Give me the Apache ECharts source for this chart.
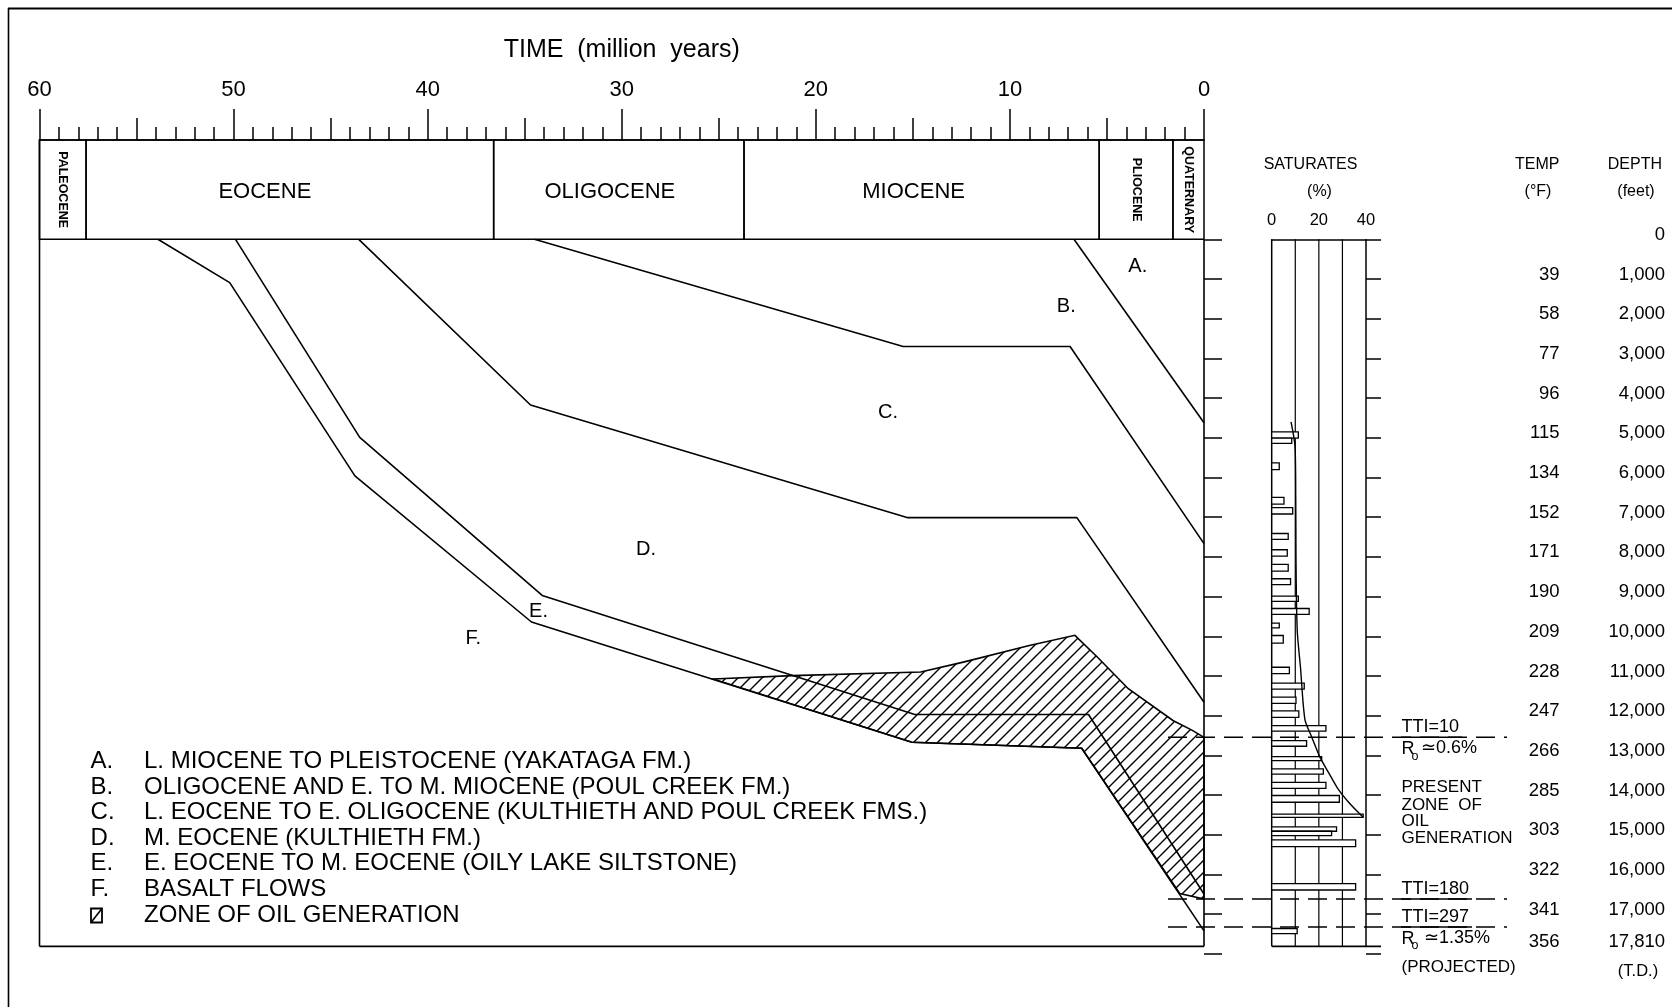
<!DOCTYPE html>
<html><head><meta charset="utf-8">
<script src="https://cdn.jsdelivr.net/npm/echarts/dist/echarts.min.js"></script>
<style>html,body{margin:0;padding:0;background:#fff}#c{width:1672px;height:1007px}</style>
</head><body><div id="c"></div>
<script>
// ---------------- DATA ----------------
const timeTitle = 'TIME  (million  years)';
const periodNames = ['PALEOCENE', 'EOCENE', 'OLIGOCENE', 'MIOCENE', 'PLIOCENE', 'QUATERNARY'];
const periodStart = [60, 57.6, 36.6, 23.7, 5.4, 1.6];
const periodEnd = [57.6, 36.6, 23.7, 5.4, 1.6, 0];
const periodVertical = [true, false, false, false, true, true];

// burial history horizons: [age Ma, depth ft]
const lineAB = [[6.7, 0], [0, 4620]];
const lineBC = [[34.5, 0], [15.5, 2700], [6.9, 2700], [0, 7665]];
const lineCD = [[43.55, 0], [34.7, 4175], [15.3, 7010], [6.55, 7010], [0, 11660]];
const lineDE = [[49.9, 0], [43.5, 4990], [34.1, 8970], [14.9, 11970], [5.95, 11970], [0, 16490]];
const lineEF = [[53.9, 0], [50.2, 1090], [43.75, 5960], [34.65, 9640], [15.05, 12670], [6.3, 12820], [0, 17420]];

// zone of oil generation (TTI=10 top, TTI=180 base)
const hatchTop = [[25.3, 11075], [21.2, 10990], [14.6, 10900], [12.4, 10650], [9.0, 10230], [6.65, 9975], [5.5, 10520], [3.9, 11320], [1.6, 12120], [0.6, 12370], [0, 12545]];
const hatchBottom = [[25.3, 11075], [15.05, 12670], [6.3, 12820], [1.25, 16480], [0, 16620]];

const ttiDepths = [12545, 16620, 17320];
const tdDepth = 17810;

const depthTicks = [0, 1000, 2000, 3000, 4000, 5000, 6000, 7000, 8000, 9000, 10000, 11000, 12000, 13000, 14000, 15000, 16000, 17000, 17810];
const depthLabels = ['0', '1,000', '2,000', '3,000', '4,000', '5,000', '6,000', '7,000', '8,000', '9,000', '10,000', '11,000', '12,000', '13,000', '14,000', '15,000', '16,000', '17,000', '17,810'];
const tempLabels = ['', '39', '58', '77', '96', '115', '134', '152', '171', '190', '209', '228', '247', '266', '285', '303', '322', '341', '356'];

// saturates (%) bars: top depth, bottom depth, value
const satTop = [4850, 5010, 5630, 6500, 6760, 7410, 7820, 8190, 8550, 8990, 9300, 9670, 9980, 10780, 11180, 11530, 11880, 12250, 12630, 13030, 13340, 13680, 14010, 14480, 14800, 14910, 15130, 16230, 17360];
const satBottom = [5010, 5140, 5800, 6670, 6920, 7560, 7980, 8360, 8700, 9120, 9450, 9790, 10170, 10940, 11330, 11690, 12040, 12390, 12770, 13130, 13470, 13830, 14180, 14560, 14910, 15020, 15300, 16390, 17490];
const satValue = [11.3, 8.5, 3.2, 5.2, 8.9, 7.0, 6.6, 7.0, 8.0, 11.3, 15.9, 3.2, 4.9, 7.5, 13.8, 10.3, 11.5, 23.0, 14.8, 21.2, 21.9, 23.0, 28.7, 38.8, 27.5, 25.4, 35.6, 35.6, 10.8];
const satCurve = [[8.2, 4600], [9.9, 5220], [10.2, 6500], [10.3, 8000], [10.5, 9100], [10.9, 9930], [12.2, 10780], [14.1, 12100], [17.0, 12540], [20.5, 13050], [24.0, 13420], [28.2, 13850], [33.2, 14220], [38.8, 14560]];

const unitLetters = ['A.', 'B.', 'C.', 'D.', 'E.', 'F.'];
const legendTexts = [
  'L. MIOCENE TO PLEISTOCENE (YAKATAGA FM.)',
  'OLIGOCENE AND E. TO M. MIOCENE (POUL CREEK FM.)',
  'L. EOCENE TO E. OLIGOCENE (KULTHIETH AND POUL CREEK FMS.)',
  'M. EOCENE (KULTHIETH FM.)',
  'E. EOCENE TO M. EOCENE (OILY LAKE SILTSTONE)',
  'BASALT FLOWS',
  'ZONE OF OIL GENERATION'
];

// ---------------- LAYOUT ----------------
const FF = '"Liberation Sans", Arial, sans-serif';
const BLACK = '#000';
const periodLabelDx = [0, -25, -9, -8, 0, 0];

function hatchPattern() {
  const s = 12;
  const c = document.createElement('canvas');
  c.width = s; c.height = s;
  const g = c.getContext('2d');
  g.strokeStyle = '#000'; g.lineWidth = 1.4;
  g.beginPath();
  g.moveTo(0, s); g.lineTo(s, 0);
  g.moveTo(-1, 1); g.lineTo(1, -1);
  g.moveTo(s - 1, s + 1); g.lineTo(s + 1, s - 1);
  g.stroke();
  return {image: c, repeat: 'repeat'};
}
const HATCH = hatchPattern();

const chart = echarts.init(document.getElementById('c'), null, {renderer: 'canvas'});

const tickStyle = {color: BLACK, width: 1.5};
const burialSeries = [lineAB, lineBC, lineCD, lineDE, lineEF].map(d => ({
  type: 'line', xAxisIndex: 0, yAxisIndex: 0, data: d, symbol: 'none', silent: true,
  lineStyle: {color: BLACK, width: 1.6}, z: 5
}));

const option = {
  animation: false,
  backgroundColor: '#fff',
  textStyle: {fontFamily: FF, color: BLACK},
  grid: [
    {left: 39.5, top: 239.3, width: 1164.5, height: 714.6},
    {left: 39.5, top: 140, width: 1164.5, height: 99.3},
    {left: 1271.7, top: 239.3, width: 94.3, height: 714.6},
    {left: 39.5, top: 140, width: 1164.5, height: 99.3}
  ],
  xAxis: [
    {gridIndex: 0, type: 'value', min: 0, max: 60, inverse: true, show: false},
    {gridIndex: 1, type: 'value', position: 'top', min: 0, max: 60, inverse: true, interval: 10,
      axisLine: {show: true, onZero: false, lineStyle: {color: BLACK, width: 1.6}},
      axisTick: {show: true, inside: false, length: 31, lineStyle: tickStyle},
      minorTick: {show: true, splitNumber: 10, length: 13, lineStyle: tickStyle},
      axisLabel: {show: true, margin: 39, fontSize: 22, color: BLACK, fontFamily: FF},
      splitLine: {show: false}, minorSplitLine: {show: false}},
    {gridIndex: 3, type: 'value', position: 'top', min: 0, max: 60, inverse: true, interval: 5,
      axisLine: {show: false, onZero: false}, axisTick: {show: true, inside: false, length: 22, lineStyle: tickStyle},
      axisLabel: {show: false}, splitLine: {show: false}},
    {gridIndex: 2, type: 'value', position: 'top', min: 0, max: 40, interval: 10,
      axisLine: {show: true, onZero: false, lineStyle: {color: BLACK, width: 1.6}}, axisTick: {show: false},
      axisLabel: {margin: 10, fontSize: 16.5, color: BLACK, fontFamily: FF,
        formatter: v => (v % 20 === 0 ? String(v) : '')},
      splitLine: {show: false}}
  ],
  yAxis: [
    {gridIndex: 0, type: 'value', min: 0, max: 18000, interval: 1000, inverse: true, position: 'right',
      axisLine: {show: false, onZero: false}, axisTick: {show: true, length: 18, lineStyle: tickStyle},
      axisLabel: {show: false}, splitLine: {show: false}},
    {gridIndex: 1, type: 'value', min: 0, max: 1, show: false},
    {gridIndex: 2, type: 'value', min: 0, max: 18000, interval: 1000, inverse: true, position: 'right',
      axisLine: {show: false, onZero: false}, axisTick: {show: true, length: 15, lineStyle: tickStyle},
      axisLabel: {show: false}, splitLine: {show: false}},
    {gridIndex: 3, type: 'value', min: 0, max: 1, show: false}
  ],
  series: [
    {
      type: 'custom', xAxisIndex: 0, yAxisIndex: 0, data: [[0, 0]], z: 4, silent: true,
      renderItem: (p, api) => {
        const poly = hatchTop.concat(hatchBottom.slice().reverse().slice(0, -1));
        return {type: 'polygon', shape: {points: poly.map(pt => api.coord(pt))},
          style: {fill: HATCH, stroke: BLACK, lineWidth: 1.6}};
      }
    },
    ...burialSeries,
    {
      type: 'custom', xAxisIndex: 1, yAxisIndex: 1, silent: true, z: 3,
      data: periodNames.map((n, i) => [periodStart[i], periodEnd[i], i]),
      renderItem: (p, api) => {
        const i = api.value(2);
        const a = api.coord([api.value(0), 1]);
        const b = api.coord([api.value(1), 0]);
        const vert = periodVertical[i];
        return {type: 'group', children: [
          {type: 'rect', shape: {x: a[0], y: a[1], width: b[0] - a[0], height: b[1] - a[1]},
            style: {fill: 'rgba(0,0,0,0)', stroke: BLACK, lineWidth: 1.5}},
          {type: 'text', x: (a[0] + b[0]) / 2 + periodLabelDx[i], y: (a[1] + b[1]) / 2 + (vert ? 0 : 2),
            rotation: vert ? -Math.PI / 2 : 0,
            style: {text: periodNames[i], align: 'center', verticalAlign: 'middle',
              fontFamily: FF, fontSize: vert ? 12.5 : 22, fontWeight: vert ? 'bold' : 'normal', fill: BLACK}}
        ]};
      }
    },
    {
      type: 'custom', xAxisIndex: 3, yAxisIndex: 2, silent: true, z: 6,
      data: satTop.map((t, i) => [satValue[i], t, satBottom[i]]),
      renderItem: (p, api) => {
        const a = api.coord([0, api.value(1)]);
        const b = api.coord([api.value(0), api.value(2)]);
        return {type: 'rect', shape: {x: a[0], y: a[1], width: b[0] - a[0], height: b[1] - a[1]},
          style: {fill: '#fff', stroke: BLACK, lineWidth: 1.3}};
      }
    },
    {type: 'line', xAxisIndex: 3, yAxisIndex: 2, data: satCurve, symbol: 'none', smooth: 0.25, silent: true,
      lineStyle: {color: BLACK, width: 1.4}, z: 7}
  ]
};
chart.setOption(option);

// ---------------- ANNOTATIONS (positions from axes) ----------------
const P0 = (t, d) => chart.convertToPixel({gridIndex: 0}, [t, d]);
const P2 = (s, d) => chart.convertToPixel({gridIndex: 2}, [s, d]);
const G = [];
const ln = (x1, y1, x2, y2, w, extra) => G.push(Object.assign({type: 'line', z: 1, silent: true,
  shape: {x1, y1, x2, y2}, style: {stroke: BLACK, lineWidth: w || 1.5}}, extra || {}));
const tx = (text, x, y, size, align, extra) => G.push({type: 'text', x, y, z: 20, silent: true,
  style: Object.assign({text, fontFamily: FF, fontSize: size, fill: BLACK, align: align || 'left', verticalAlign: 'middle'}, extra || {})});

// outer frame
ln(8, 8.5, 1672, 8.5, 2.2);
ln(8.5, 8, 8.5, 1007, 1.6);

// main plot box
const m0 = P0(60, 0), m1 = P0(0, tdDepth);
ln(m0[0], 140, m0[0], m1[1], 1.6);
ln(m0[0], m1[1], m1[0], m1[1], 1.8);
ln(m1[0], m0[1], m1[0], m1[1], 1.6);

// time axis title, centred over the time axis
tx(timeTitle, (m0[0] + m1[0]) / 2, 50, 25, 'center');

// saturates box & grid
const s0 = P2(0, 0), s1 = P2(40, tdDepth);
ln(s0[0], s0[1], s0[0], s1[1], 1.5);
ln(s1[0], s0[1], s1[0], s1[1], 1.5);
ln(s0[0], s1[1], s1[0] + 15, s1[1], 1.6);
[10, 20, 30].forEach(v => { const a = P2(v, 0), b = P2(v, tdDepth); ln(a[0], a[1], b[0], b[1], 1.2); });

// TTI dashed lines
ttiDepths.forEach(d => {
  const y = P0(0, d)[1];
  ln(1168, y, 1507, y, 1.5, {z: 15, style: {stroke: BLACK, lineWidth: 1.5, lineDash: [19, 9]}});
});
const yT = ttiDepths.map(d => P0(0, d)[1]);
ln(1401, yT[0], 1462, yT[0], 1.5, {z: 15});
ln(1401, yT[1], 1472, yT[1], 1.5, {z: 15});
ln(1401, yT[2], 1472, yT[2], 1.5, {z: 15});
const RS = 18;
tx('TTI=10', 1401.5, yT[0] - 10, RS);
tx('R', 1401.5, yT[0] + 12, RS);
tx('o', 1411.5, yT[0] + 19, 12.5);
tx('≃0.6%', 1421, yT[0] + 11, RS);
tx('PRESENT', 1401.5, 787, 17);
tx('ZONE  OF', 1401.5, 805, 17);
tx('OIL', 1401.5, 821, 17);
tx('GENERATION', 1401.5, 838, 17);
tx('TTI=180', 1401.5, yT[1] - 10, RS);
tx('TTI=297', 1401.5, yT[2] - 10, RS);
tx('R', 1401.5, yT[2] + 12, RS);
tx('o', 1411.5, yT[2] + 19, 12.5);
tx('≃1.35%', 1424, yT[2] + 11, RS);
tx('(PROJECTED)', 1401.5, 967.5, 17);

// column headers
tx('SATURATES', 1310.5, 165, 16, 'center');
tx('(%)', 1319.5, 191.5, 16, 'center');
tx('TEMP', 1559.5, 165, 16, 'right');
tx('(°F)', 1538, 191.5, 16, 'center');
tx('DEPTH', 1662, 165, 16, 'right');
tx('(feet)', 1636, 191.5, 16, 'center');

// depth & temperature columns
depthTicks.forEach((d, i) => {
  const y = P0(0, d)[1] - 4.5;
  tx(depthLabels[i], 1665, y, 18.5, 'right');
  if (tempLabels[i]) tx(tempLabels[i], 1559.5, y, 18.5, 'right');
});
tx('(T.D.)', 1638, 971.5, 16.5, 'center');

// unit labels in the burial plot
const unitPos = [[1137.8, 266.6], [1066.3, 306], [888, 412.7], [646, 549], [538.5, 611], [473.4, 638]];
unitLetters.forEach((u, i) => tx(u, unitPos[i][0], unitPos[i][1], 20, 'center'));

// legend
const legY = [761.4, 787.0, 812.5, 838.1, 863.7, 889.3, 915.5];
legendTexts.forEach((t, i) => {
  if (i < unitLetters.length) tx(unitLetters[i], 90.6, legY[i], 24);
  tx(t, 144, legY[i], 24);
});
G.push({type: 'rect', z: 20, silent: true, shape: {x: 91, y: legY[6] - 7, width: 11, height: 14},
  style: {fill: 'none', stroke: BLACK, lineWidth: 1.8}});
ln(91, legY[6] + 7, 102, legY[6] - 7, 1.6, {z: 20});

chart.setOption({graphic: G});
</script></body></html>
